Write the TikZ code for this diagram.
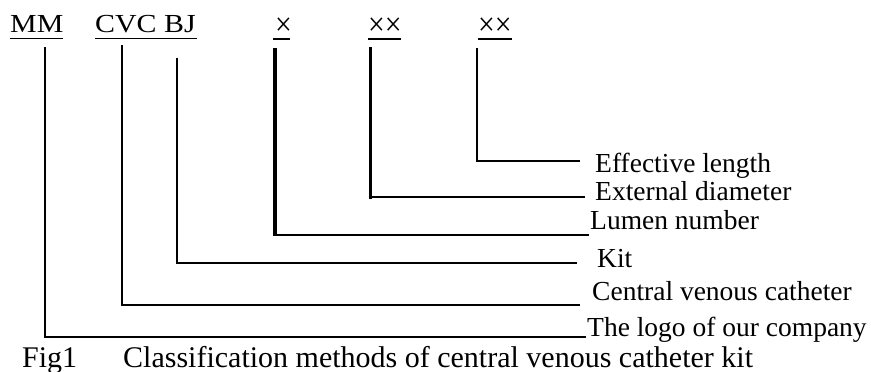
\documentclass[tikz,border=0pt]{standalone}
\usepackage{fontspec}
\setmainfont{Liberation Serif}
\usepackage{graphicx}
\begin{document}
\begin{tikzpicture}[x=1pt,y=-1pt,
  code/.style={anchor=base west, inner sep=0pt, font=\fontsize{26}{26}\selectfont},
  times/.style={anchor=base west, inner sep=0pt, font=\fontsize{33}{33}\selectfont},
  lbl/.style={anchor=base west, inner sep=0pt, font=\fontsize{27.5}{27.5}\selectfont},
  captext/.style={anchor=base west, inner sep=0pt, font=\fontsize{30}{30}\selectfont},
  lead/.style={line width=2pt},
  uline/.style={line width=1.6pt}]
\useasboundingbox (0,0) rectangle (871,372);

% code fields of the product number
\node[code] (mm)  at (10,32)  {\scalebox{1.15}[1]{MM}};
\node[code] (cvc) at (95,32)  {\scalebox{1.15}[1]{CVC BJ}};
\node[times] (lum) at (275,35) {\scalebox{0.9}[1]{×}};
\node[times] (dia) at (368,35) {\scalebox{0.9}[1]{××}};
\node[times] (len) at (478,35) {\scalebox{0.9}[1]{××}};

% underlines
\draw[uline] (10,38.5) -- (63,38.5);
\draw[uline] (95,38.5) -- (197,38.5);
\draw[uline] (273,39) -- (290,39);
\draw[uline] (368,39) -- (401,39);
\draw[uline] (478,39) -- (512,39);

% meaning of each field
\node[lbl] (tlen)  at (595,172) {Effective length};
\node[lbl] (tdia)  at (595,200) {External diameter};
\node[lbl] (tlum)  at (590,229) {Lumen number};
\node[lbl] (tkit)  at (597,267) {Kit};
\node[lbl] (tcvc)  at (592,300) {Central venous catheter};
\node[lbl] (tlogo) at (587,336) {The logo of our company};

\node[captext] (fig) at (22,367) {Fig1};
\node[captext] (title) at (123,367) {Classification methods of central venous catheter kit};

% leader start and end points
\coordinate (sMM)  at (45,47);   \coordinate (eMM)  at (586,337);
\coordinate (sCVC) at (122,45);  \coordinate (eCVC) at (580,305);
\coordinate (sBJ)  at (177,58);  \coordinate (eBJ)  at (577,263);
\coordinate (sLum) at (275,48);  \coordinate (cLum) at (275,235); \coordinate (eLum) at (589,235);
\coordinate (sDia) at (370,47);  \coordinate (cDia) at (370,197); \coordinate (eDia) at (585,197);
\coordinate (sLen) at (477,48);  \coordinate (eLen) at (580,161);

% leaders
\draw[lead] (sMM) |- (eMM);
\draw[lead] (sCVC) |- (eCVC);
\draw[lead] (sBJ) |- (eBJ);
\draw[line width=4pt] (sLum) -- ([yshift=-1pt]cLum);
\draw[lead] ([xshift=-2pt]cLum) -- (eLum);
\draw[line width=3pt] (sDia) -- ([yshift=-1.5pt]cDia);
\draw[line width=2.6pt] ([xshift=-1.5pt]cDia) -- (eDia);
\draw[lead, line width=2.4pt] (sLen) |- (eLen);
\end{tikzpicture}
\end{document}
